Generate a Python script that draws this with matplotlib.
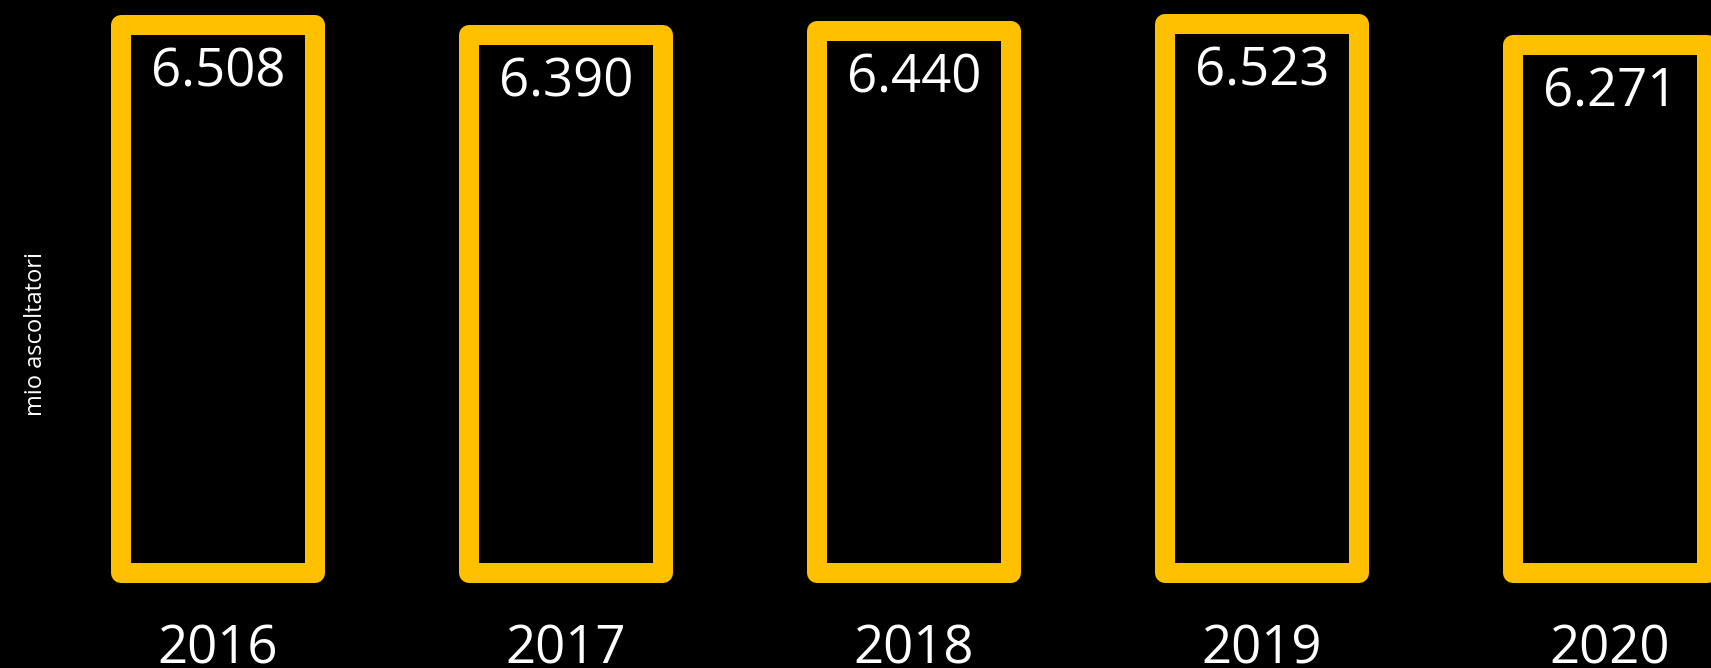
import matplotlib
matplotlib.use("Agg")
import matplotlib.pyplot as plt

# Listeners per year (thousands, Italian number format)
years = ["2016", "2017", "2018", "2019", "2020"]
listeners = [6508, 6390, 6440, 6523, 6271]
value_labels = ["6.508", "6.390", "6.440", "6.523", "6.271"]
y_label = "mio ascoltatori"

W, H, DPI = 1711, 668, 100
fig = plt.figure(figsize=(W / DPI, H / DPI), dpi=DPI, facecolor="black")
ax = fig.add_axes([0, 0, 1, 1])
ax.set_facecolor("black")

plt.rcParams["font.family"] = ["Open Sans", "DejaVu Sans"]
gold = "#FFC000"

x = list(range(len(years)))
ax.bar(x, listeners, width=0.557, facecolor="black", edgecolor=gold,
       linewidth=14.4, joinstyle="round", clip_on=False)

ax.set_xlim(-0.6264, 4.290)
ax.set_ylim(-1128, 6805)
ax.axis("off")

for xi, v, lab in zip(x, listeners, value_labels):
    ax.annotate(lab, xy=(xi, v), xytext=(0, -44.5), textcoords="offset points",
                ha="center", va="baseline", color="white", fontsize=38,
                family=["Open Sans", "DejaVu Sans"])

for xi, yr in zip(x, years):
    ax.text(xi, -1070, yr, ha="center", va="baseline", color="white",
            fontsize=38, family=["Open Sans", "DejaVu Sans"])

fig.text(36 / W, 0.5, y_label, rotation=90, ha="center", va="center",
         color="white", fontsize=17, family=["Open Sans", "DejaVu Sans"])

fig.savefig("out.png", dpi=DPI, facecolor="black")
